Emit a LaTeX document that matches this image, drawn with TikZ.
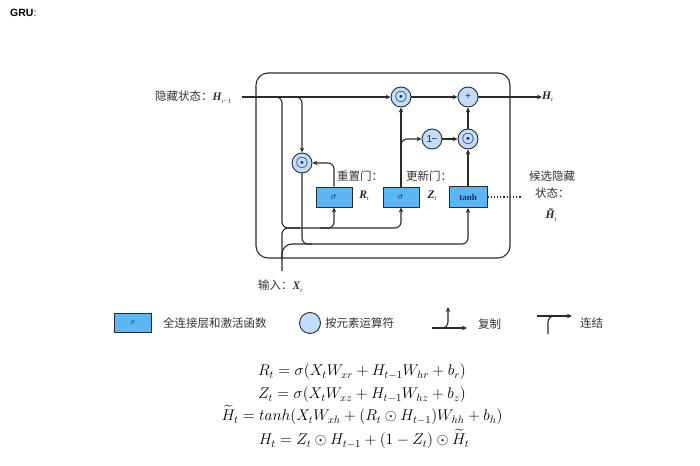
\documentclass[tikz,border=0pt]{standalone}
\usepackage{fontspec}
\usepackage{amsmath}
\usetikzlibrary{arrows.meta}
\newfontfamily\cjk{Noto Sans CJK SC}
\newfontfamily\lsans{Liberation Sans}
\newfontfamily\tnr{Liberation Serif}
\definecolor{boxblue}{HTML}{5DB6F4}
\definecolor{circblue}{HTML}{C0DDFB}
\definecolor{lin}{HTML}{2B2B2B}
\definecolor{txtnavy}{HTML}{1C2B55}
\newcommand{\glab}[2]{{\tnr\bfseries\itshape\fontsize{11.5}{12}\selectfont #1}\raisebox{-2.5pt}{\tnr\itshape\fontsize{6.5}{7}\selectfont #2}}
\newcommand{\bodot}{{\fontsize{15}{15}\selectfont$\boldsymbol{\odot}$}}
\begin{document}
\begin{tikzpicture}[x=1pt,y=-1pt,
  gate/.style={draw=lin, line width=0.9pt, fill=boxblue, minimum width=36pt, minimum height=20pt, inner sep=0pt, text=txtnavy},
  op/.style={circle, draw=lin, line width=0.9pt, fill=circblue, minimum size=20pt, inner sep=0pt, text=txtnavy},
  conn/.style={draw=lin, line width=1.1pt, -{Stealth[length=5pt,width=4.5pt]}},
  plain/.style={draw=lin, line width=1.1pt},
  cjkt/.style={font=\cjk\fontsize{11.5}{13}\selectfont, text=black!80, inner sep=0pt},
  mlab/.style={inner sep=0pt, text=black!85},
  eqn/.style={inner sep=0pt, text height=10pt, text depth=3pt, scale=1.08, font=\fontsize{14.4}{17}\selectfont}]
\useasboundingbox (0,0) rectangle (700,465);
\node[anchor=west, inner sep=0pt] (title) at (10,13) {\lsans\bfseries\fontsize{10.5}{12}\selectfont GRU\mdseries :};

% big box
\draw[plain, rounded corners=12pt] (256,73) rectangle (510,258);

% nodes
\node[op] (mt) at (401,97) {\bodot};
\node[op] (pl) at (468,97) {\lsans +};
\node[op] (om) at (432,139) {\lsans 1\kern-0.5pt−};
\node[op] (mz) at (468,139) {\bodot};
\node[op] (mr) at (302,163) {\bodot};
\node[gate] (gr) at (334,197) {$\sigma$};
\node[gate] (gz) at (401,197) {$\sigma$};
\node[gate, minimum width=38pt, minimum height=21pt] (gh) at (468,197) {\tnr\bfseries\fontsize{9}{10}\selectfont tanh};

% labels
\node[cjkt, anchor=west] (hlab) at (155,97) {隐藏状态：\glab{H}{t−1}};
\coordinate (hst) at (242,97);
\node[mlab, anchor=west] (htout) at (542,97) {\glab{H}{t}};
\node[cjkt, anchor=west] (lr) at (337,176) {重置门：};
\node[mlab] (lrt) at (364,196) {\glab{R}{t}};
\node[cjkt, anchor=west] (lz) at (406,176) {更新门：};
\node[mlab] (lzt) at (432,196) {\glab{Z}{t}};
\node[cjkt] (lh1) at (552,176) {候选隐藏};
\node[cjkt, anchor=west] (lh2) at (535,193) {状态：};
\node[mlab] (lh3) at (551,215) {{\tnr\bfseries\itshape\fontsize{11.5}{12}\selectfont \~{H}}\raisebox{-2.5pt}{\tnr\itshape\fontsize{6.5}{7}\selectfont t}};
\node[cjkt, anchor=west] (xlab) at (258,286) {输入：\glab{X}{t}};
\coordinate (xin) at (282,271);

% connectors
\draw[conn] (hst) -- (mt.west);
\draw[conn] (mt.east) -- (pl.west);
\draw[conn] (pl.east) -- (htout.west);
\draw[conn, rounded corners=6pt] (268,97) -| (282,228) -| (gr.south);
\draw[conn, rounded corners=6pt] (320,228) -| (gz.south);
\draw[plain, rounded corners=6pt] (xin) |- (300,228);
\draw[conn, rounded corners=6pt] (290,97) -| (mr.north);
\draw[conn, rounded corners=6pt] (gr.north) |- (mr.east);
\draw[conn, rounded corners=6pt] (mr.south) -- (302,244) -| (gh.south);
\draw[plain, rounded corners=10pt] (282,258) |- (312,244);
\draw[conn] (gz.north) -- (mt.south);
\draw[conn, rounded corners=6pt] (401,152) |- (om.west);
\draw[conn] (om.east) -- (mz.west);
\draw[conn] (mz.north) -- (pl.south);
\draw[conn] (gh.north) -- (mz.south);
\draw[lin, line width=1.2pt, dotted] (gh.east) -- (522,197);

% legend
\node[gate, minimum width=37pt, minimum height=19pt] (lg) at (133,323) {\footnotesize$\sigma$};
\node[cjkt, anchor=west] (lgt) at (163,323) {全连接层和激活函数};
\draw[draw=lin, line width=0.9pt, fill=circblue] (310,323) circle (10.5pt);
\node[cjkt, anchor=west] (lct) at (325,323) {按元素运算符};
\coordinate (ca) at (432,328);
\coordinate (cb) at (467,328);
\draw[conn] (ca) -- (cb);
\draw[conn, rounded corners=6pt] (438,328) -| (448,307);
\node[cjkt, anchor=west] (cpt) at (478,324) {复制};
\coordinate (ka) at (537,316);
\coordinate (kb) at (572,316);
\coordinate (kc) at (548,334);
\draw[conn] (ka) -- (kb);
\draw[plain, rounded corners=6pt] (kc) |- (558,316);
\node[cjkt, anchor=west] (kt) at (580,323) {连结};

% equations
\node[eqn] (e1) at (362,372) {$R_t = \sigma(X_t W_{xr} + H_{t-1} W_{hr} + b_r)$};
\node[eqn] (e2) at (362,395) {$Z_t = \sigma(X_t W_{xz} + H_{t-1} W_{hz} + b_z)$};
\node[eqn] (e3) at (362,417) {$\widetilde{H}_t = tanh(X_t W_{xh} + (R_t \odot H_{t-1}) W_{hh} + b_h)$};
\node[eqn] (e4) at (364,441) {$H_t = Z_t \odot H_{t-1} + (1 - Z_t) \odot \widetilde{H}_t$};
\end{tikzpicture}
\end{document}
